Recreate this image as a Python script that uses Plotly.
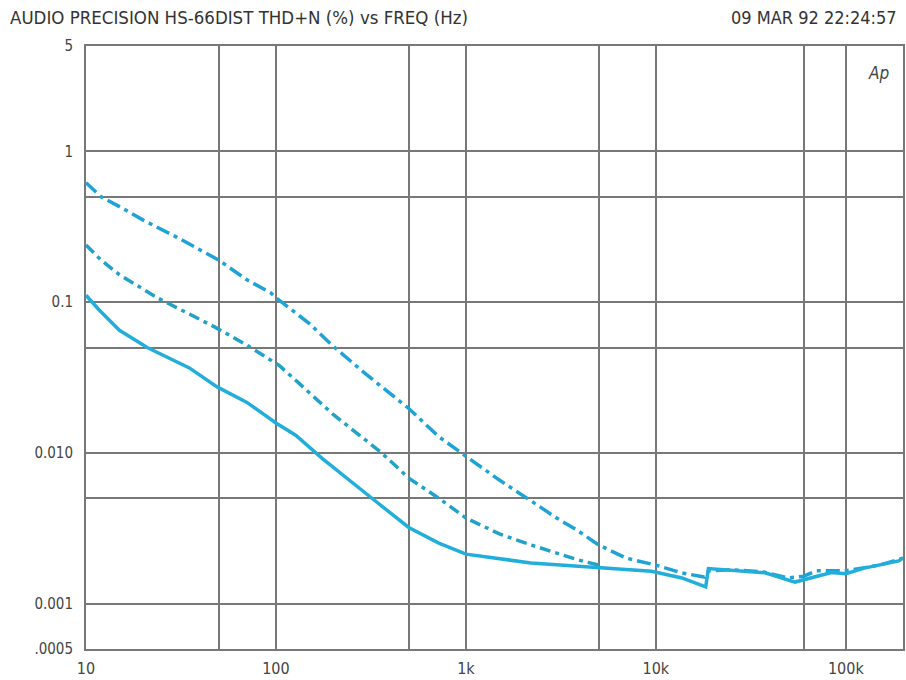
import plotly.graph_objects as go

# ---- data ----
freq_top = [10, 11, 12, 15, 20, 30, 50, 70, 94, 100, 150, 200, 300, 500, 720, 1000, 1500,
            2150, 3000, 3800, 5000, 7000, 8900, 10000, 13700, 18000, 19000, 25000, 37000, 50000,
            60000, 70000, 100000, 150000, 200000]
thd_top = [0.62, 0.55, 0.5, 0.43, 0.35, 0.27, 0.19, 0.141, 0.115, 0.107, 0.072, 0.051,
           0.033, 0.0197, 0.0128, 0.0095, 0.0066, 0.0049, 0.0037, 0.0031, 0.00245, 0.0020,
           0.00186, 0.0018, 0.0016, 0.0015, 0.00165, 0.00168, 0.00162, 0.00148, 0.00152,
           0.00165, 0.00165, 0.0018, 0.002]

freq_mid = [10, 12, 15, 20, 24, 30, 48, 70, 104, 132, 200, 360, 500, 720, 1000, 1500, 2200,
            3900, 5000]
thd_mid = [0.239, 0.19, 0.152, 0.123, 0.106, 0.092, 0.068, 0.052, 0.038, 0.029, 0.018, 0.0100,
           0.0068, 0.0050, 0.0037, 0.0029, 0.00245, 0.00195, 0.0018]

freq_low = [10, 11.7, 15, 21, 35, 49, 70, 100, 127, 175, 320, 500, 720, 1000, 2200, 5000, 9500,
            13700, 18300, 18900, 25000, 37600, 54000, 66000, 84000, 100000, 125000, 190000, 200000]
thd_low = [0.111, 0.089, 0.065, 0.05, 0.0366, 0.0274, 0.0217, 0.0158, 0.0131, 0.0092, 0.005,
           0.0032, 0.00252, 0.00213, 0.00186, 0.00173, 0.00164, 0.00148, 0.00129, 0.00171,
           0.00167, 0.0016, 0.00139, 0.00148, 0.00161, 0.00158, 0.00172, 0.00192, 0.00201]

x_grid = [10, 50, 100, 500, 1000, 5000, 10000, 60000, 100000, 200000]
x_labels = ["10", "", "100", "", "1k", "", "10k", "", "100k", ""]
y_grid = [0.0005, 0.001, 0.005, 0.01, 0.05, 0.1, 0.5, 1, 5]
y_labels = [".0005", "0.001", "", "0.010", "", "0.1", "", "1", "5"]

title_left = "AUDIO PRECISION HS-66DIST THD+N (%) vs FREQ (Hz)"
title_right = "09 MAR 92 22:24:57"

FONT = "DejaVu Sans Condensed, Liberation Sans Narrow, Arial Narrow, sans-serif"
GRID = "#787878"

fig = go.Figure()
fig.add_trace(go.Scatter(x=freq_top, y=thd_top, mode="lines",
                         line=dict(color="#1fa3d6", width=3.5, dash="14px,5px,4px,5px")))
fig.add_trace(go.Scatter(x=freq_mid, y=thd_mid, mode="lines",
                         line=dict(color="#23a2c8", width=3.5, dash="11px,5px,4px,5px")))
fig.add_trace(go.Scatter(x=freq_low, y=thd_low, mode="lines",
                         line=dict(color="#22aedb", width=3.5)))

fig.update_layout(
    width=906, height=680,
    margin=dict(l=86, r=1, t=46, b=31),
    paper_bgcolor="white", plot_bgcolor="white",
    showlegend=False,
    font=dict(family=FONT, size=15, color="#444"),
    xaxis=dict(type="log", range=[1, 5.30103], tickvals=x_grid, ticktext=x_labels,
               showgrid=True, gridcolor=GRID, gridwidth=1.8, zeroline=False,
               showline=True, mirror=True, linecolor=GRID, linewidth=2,
               ticks="", ticklabelstandoff=4, tickfont=dict(family=FONT, size=16, color="#444")),
    yaxis=dict(type="log", range=[-3.30103, 0.69897], tickvals=y_grid, ticktext=y_labels,
               showgrid=True, gridcolor=GRID, gridwidth=1.8, zeroline=False,
               showline=True, mirror=True, linecolor=GRID, linewidth=2,
               ticks="", ticklabelstandoff=8, tickfont=dict(family=FONT, size=15, color="#444")),
    annotations=[
        dict(text=title_left, xref="paper", yref="paper", x=(8 - 86) / 819, y=(649 - 18) / 603,
             xanchor="left", yanchor="middle", showarrow=False,
             font=dict(family=FONT, size=18.5, color="#333")),
        dict(text=title_right, xref="paper", yref="paper", x=(901 - 86) / 819, y=(649 - 18) / 603,
             xanchor="right", yanchor="middle", showarrow=False,
             font=dict(family=FONT, size=18, color="#333")),
        dict(text="<i>Ap</i>", xref="paper", yref="paper", x=(880 - 86) / 819, y=(649 - 73) / 603,
             xanchor="center", yanchor="middle", showarrow=False,
             font=dict(family=FONT, size=17, color="#444")),
    ],
)

fig.write_html("out.html")
